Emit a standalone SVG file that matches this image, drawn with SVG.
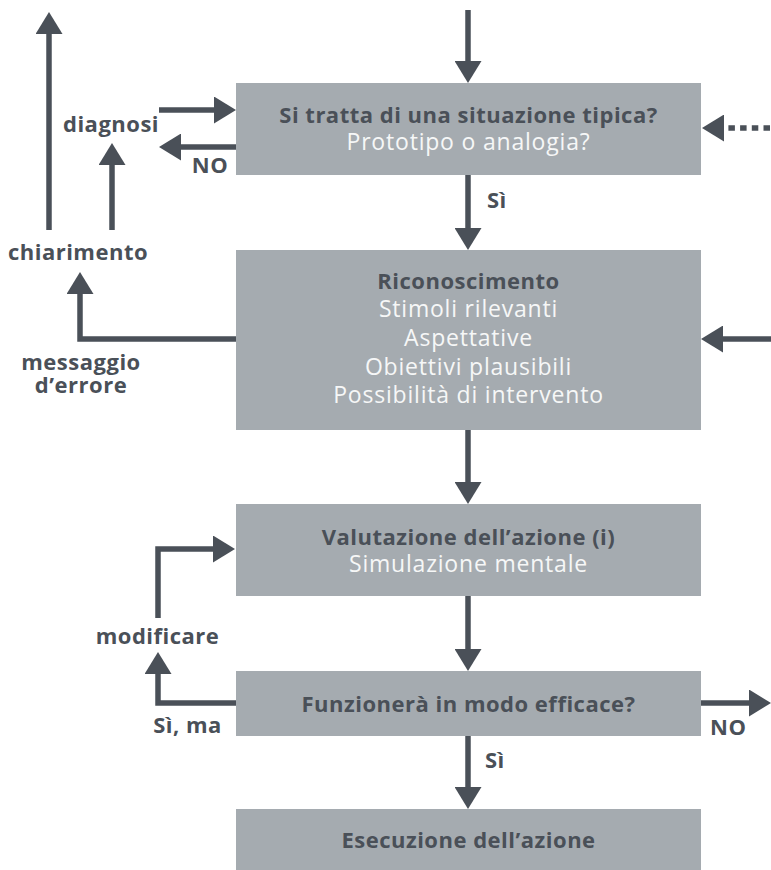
<svg xmlns="http://www.w3.org/2000/svg" width="771" height="870" viewBox="0 0 771 870">
<style>
.box{fill:#a5abb0}
.t{font-family:"Open Sans","Noto Sans","Liberation Sans",sans-serif;text-anchor:middle}
.b{font-size:22px;letter-spacing:0.5px;font-weight:bold;fill:#4a5058}
.w{font-size:23px;letter-spacing:0.8px;fill:#f6f7f7}
.lbl{font-family:"Open Sans","Noto Sans","Liberation Sans",sans-serif;font-size:22px;letter-spacing:0.5px;font-weight:bold;fill:#4a5058}
.c{fill:none;stroke:#4a5058;stroke-width:5.5;marker-end:url(#ah)}
.d{stroke-dasharray:6.5 5.2}
</style>
<defs>
<marker id="ah" viewBox="0 0 22 27" refX="0" refY="13.5" markerWidth="22" markerHeight="27" markerUnits="userSpaceOnUse" orient="auto">
<path d="M0,0 L22,13.5 L0,27 Z" fill="#4a5058"/>
</marker>
</defs>
<g id="connectors">
<path class="c" d="M468,10 V61"/>
<path class="c" d="M468,175 V228"/>
<path class="c" d="M468,430 V482"/>
<path class="c" d="M468,596 V649"/>
<path class="c" d="M468,736 V787"/>
<path class="c d" d="M770,128 H724"/>
<path class="c" d="M771,339 H723"/>
<path class="c" d="M159,110 H214"/>
<path class="c" d="M236,147 H181"/>
<path class="c" d="M49,230 V34"/>
<path class="c" d="M112,230 V165"/>
<path class="c" d="M236,339 H80 V294"/>
<path class="c" d="M158,618 V549 H213"/>
<path class="c" d="M236,703 H158 V674"/>
<path class="c" d="M701,703 H749"/>
</g>
<g id="n1">
<rect class="box" x="236" y="83" width="465" height="92"/>
<text class="t b" x="468.5" y="123">Si tratta di una situazione tipica?</text>
<text class="t w" x="468.5" y="150">Prototipo o analogia?</text>
</g>
<g id="n2">
<rect class="box" x="236" y="250" width="465" height="180"/>
<text class="t b" x="468.5" y="289">Riconoscimento</text>
<text class="t w" x="468.5" y="317">Stimoli rilevanti</text>
<text class="t w" x="468.5" y="346">Aspettative</text>
<text class="t w" x="468.5" y="375">Obiettivi plausibili</text>
<text class="t w" x="468.5" y="403">Possibilità di intervento</text>
</g>
<g id="n3">
<rect class="box" x="236" y="504" width="465" height="92"/>
<text class="t b" x="468.5" y="545">Valutazione dell’azione (i)</text>
<text class="t w" x="468.5" y="572">Simulazione mentale</text>
</g>
<g id="n4">
<rect class="box" x="236" y="671" width="465" height="65"/>
<text class="t b" x="468.5" y="712">Funzionerà in modo efficace?</text>
</g>
<g id="n5">
<rect class="box" x="236" y="809" width="465" height="61"/>
<text class="t b" x="468.5" y="848">Esecuzione dell’azione</text>
</g>
<g id="labels">
<text class="lbl" x="111" y="132" text-anchor="middle">diagnosi</text>
<text class="lbl" x="210" y="173" text-anchor="middle">NO</text>
<text class="lbl" x="78" y="260" text-anchor="middle">chiarimento</text>
<text class="lbl" x="81" y="370" text-anchor="middle">messaggio</text>
<text class="lbl" x="81" y="393" text-anchor="middle">d’errore</text>
<text class="lbl" x="157.5" y="644" text-anchor="middle">modificare</text>
<text class="lbl" x="187.5" y="733" text-anchor="middle">Sì, ma</text>
<text class="lbl" x="487" y="208">Sì</text>
<text class="lbl" x="485" y="768">Sì</text>
<text class="lbl" x="710" y="735">NO</text>
</g>
</svg>
